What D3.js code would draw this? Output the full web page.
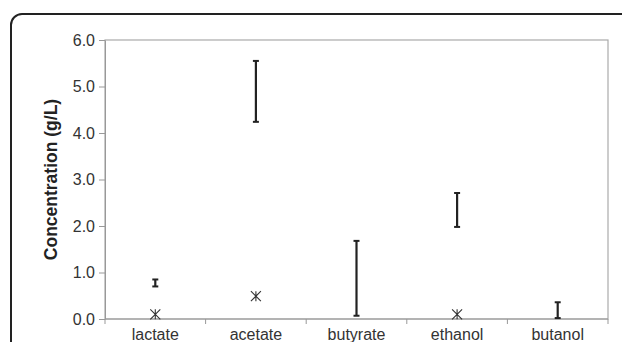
<!DOCTYPE html>
<html>
<head>
<meta charset="utf-8">
<script src="https://cdn.jsdelivr.net/npm/d3@7"></script>
<style>
  body { margin: 0; background: #fff; }
  svg { display: block; font-family: "Liberation Sans", Arial, sans-serif; }
</style>
</head>
<body>
<script>
var swidth = 622,
    sheight = 342,
    margin = {top: 40, right: 14, bottom: 23, left: 105},
    width = swidth - margin.left - margin.right,
    height = sheight - margin.top - margin.bottom;

// data
var categories = ["lactate", "acetate", "butyrate", "ethanol", "butanol"];
var rangeHigh = [0.85, 5.55, 1.68, 2.71, 0.36];
var rangeLow = [0.70, 4.24, 0.07, 1.98, 0.02];
var markerCats = ["lactate", "acetate", "ethanol"];
var markerVals = [0.10, 0.49, 0.10];
var yTicks = [0, 1, 2, 3, 4, 5, 6];

var svg = d3.select("body").append("svg")
    .attr("width", swidth)
    .attr("height", sheight);

// outer rounded frame (runs off the right and bottom)
svg.append("rect")
    .attr("x", 11)
    .attr("y", 14)
    .attr("width", 640)
    .attr("height", 360)
    .attr("rx", 11)
    .attr("fill", "none")
    .attr("stroke", "#222")
    .attr("stroke-width", 2);

var g = svg.append("g")
    .attr("transform", "translate(" + margin.left + "," + margin.top + ")");

var x = d3.scaleBand()
    .domain(categories)
    .range([0, width]);

var y = d3.scaleLinear()
    .domain([0, 6])
    .range([height, 0]);

// plot frame
g.append("rect")
    .attr("x", 0)
    .attr("y", 0)
    .attr("width", width)
    .attr("height", height)
    .attr("fill", "none")
    .attr("stroke", "#aaa")
    .attr("stroke-width", 1.2);

// y axis
var yAxis = g.append("g")
    .call(d3.axisLeft(y).tickValues(yTicks).tickSize(6).tickSizeOuter(0)
      .tickFormat(d3.format(".1f")));
yAxis.select(".domain").attr("stroke", "#999");
yAxis.selectAll(".tick line").attr("stroke", "#999");
yAxis.selectAll(".tick text")
    .attr("x", -10)
    .attr("fill", "#333")
    .style("font-size", "16px")
    .style("font-family", "Liberation Sans, Arial, sans-serif");

// x axis: ticks between categories
var xAxis = g.append("g")
    .attr("transform", "translate(0," + height + ")");
xAxis.append("line")
    .attr("x1", 0).attr("x2", width)
    .attr("stroke", "#999").attr("stroke-width", 1.2);
xAxis.selectAll("line.sep")
    .data(categories)
    .enter().append("line")
    .attr("class", "sep")
    .attr("x1", function(d) { return x(d); })
    .attr("x2", function(d) { return x(d); })
    .attr("y1", 0).attr("y2", 5)
    .attr("stroke", "#999");
xAxis.append("line")
    .attr("x1", width).attr("x2", width)
    .attr("y1", 0).attr("y2", 5)
    .attr("stroke", "#999");
xAxis.selectAll("text")
    .data(categories)
    .enter().append("text")
    .attr("x", function(d) { return x(d) + x.bandwidth() / 2; })
    .attr("y", 21)
    .attr("text-anchor", "middle")
    .attr("fill", "#333")
    .style("font-size", "16px")
    .text(function(d) { return d; });

// y label
svg.append("text")
    .attr("transform", "translate(57," + (margin.top + height / 2) + ") rotate(-90)")
    .attr("text-anchor", "middle")
    .attr("font-weight", "bold")
    .style("font-size", "17.5px")
    .attr("fill", "#222")
    .text("Concentration (g/L)");

// range bars
var bars = g.selectAll("g.bar")
    .data(categories)
    .enter().append("g")
    .attr("class", "bar")
    .attr("transform", function(d) { return "translate(" + (x(d) + x.bandwidth() / 2) + ",0)"; });

bars.append("line")
    .attr("y1", function(d, i) { return y(rangeHigh[i]); })
    .attr("y2", function(d, i) { return y(rangeLow[i]); })
    .attr("stroke", "#222").attr("stroke-width", 2.2);
bars.append("line")
    .attr("x1", -3).attr("x2", 3)
    .attr("y1", function(d, i) { return y(rangeHigh[i]); })
    .attr("y2", function(d, i) { return y(rangeHigh[i]); })
    .attr("stroke", "#222").attr("stroke-width", 2);
bars.append("line")
    .attr("x1", -3).attr("x2", 3)
    .attr("y1", function(d, i) { return y(rangeLow[i]); })
    .attr("y2", function(d, i) { return y(rangeLow[i]); })
    .attr("stroke", "#222").attr("stroke-width", 2);

// star markers
var marks = g.selectAll("g.mark")
    .data(markerCats)
    .enter().append("g")
    .attr("class", "mark")
    .attr("transform", function(d, i) {
      return "translate(" + (x(d) + x.bandwidth() / 2) + "," + y(markerVals[i]) + ")";
    });
marks.append("path")
    .attr("d", "M-5,-5L5,5M-5,5L5,-5M0,-5L0,5")
    .attr("stroke", "#333")
    .attr("stroke-width", 1.1)
    .attr("fill", "none");
</script>
</body>
</html>
